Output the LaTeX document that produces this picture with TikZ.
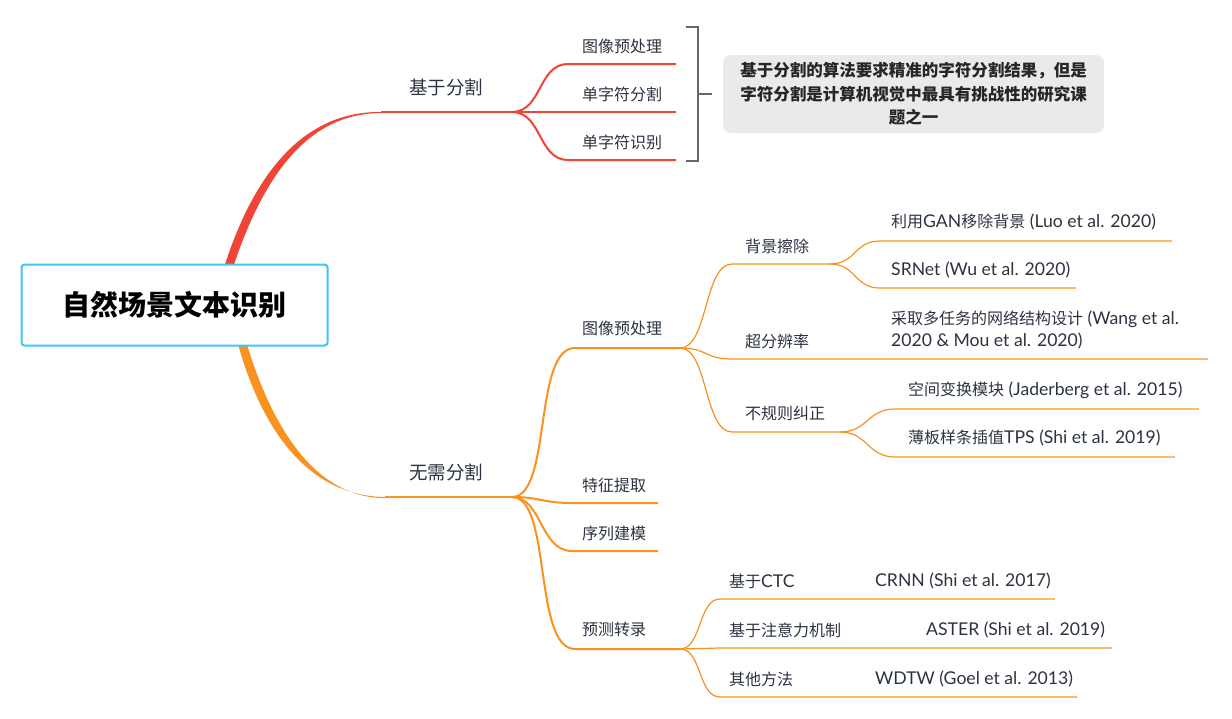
\documentclass[tikz,border=0pt]{standalone}
\usepackage{fontspec}
\setmainfont{Noto Sans CJK SC}
\newfontfamily\cjk{Noto Sans CJK SC}
\newfontfamily\latf[Scale=1.1]{Lato}
\newcommand\la[1]{{\latf #1}}
\definecolor{redb}{HTML}{EF4539}
\definecolor{orb}{HTML}{F7931E}
\definecolor{txt}{HTML}{2B3340}
\definecolor{rootb}{HTML}{3DC5F6}
\definecolor{brk}{HTML}{666666}
\definecolor{callbg}{HTML}{EAEAEA}
\begin{document}
\begin{tikzpicture}[x=1pt,y=-1pt,
  lbl/.style={anchor=west,inner sep=0pt,text=txt,font=\cjk\fontsize{16}{18}\selectfont},
  big/.style={anchor=west,inner sep=0pt,text=txt,font=\cjk\fontsize{18.5}{22}\selectfont},
  redl/.style={draw=redb,line width=2pt},
  orl/.style={draw=orb,line width=2pt},
  orthin/.style={draw=orb,line width=1.2pt},
]
\useasboundingbox (0,0) rectangle (1232,718);
% coordinates
\coordinate (s1) at (381,112); \coordinate (s1e) at (512,112);
\coordinate (a1s) at (568,64); \coordinate (a1e) at (676,64);
\coordinate (a2e) at (676,112);
\coordinate (a3s) at (568,160); \coordinate (a3e) at (676,160);
\coordinate (s2) at (385,497); \coordinate (s2e) at (512,497);
\coordinate (b1s) at (575,348); \coordinate (b1e) at (680,348);
\coordinate (b2s) at (572,503); \coordinate (b2e) at (658,503);
\coordinate (b3s) at (572,551); \coordinate (b3e) at (658,551);
\coordinate (b4s) at (575,649); \coordinate (b4e) at (680,649);
\coordinate (c1s) at (732,264); \coordinate (c1e) at (830,264);
\coordinate (c2s) at (732,359); \coordinate (c2e) at (1208,359);
\coordinate (c3s) at (732,432); \coordinate (c3e) at (840,432);
\coordinate (d1s) at (880,241); \coordinate (d1e) at (1172,241);
\coordinate (d2s) at (880,288); \coordinate (d2e) at (1076,288);
\coordinate (e1s) at (895,409); \coordinate (e1e) at (1199,409);
\coordinate (e2s) at (895,457); \coordinate (e2e) at (1175,457);
\coordinate (f1s) at (720,599); \coordinate (f1e) at (1055,599);
\coordinate (f2s) at (720,648); \coordinate (f2e) at (1112,648);
\coordinate (f3s) at (720,697); \coordinate (f3e) at (1077,697);

% main tapered branches
\fill[redb] (224.5,266) .. controls (251,183) and (298,110.9) .. (s1)
  -- (381,113.1) .. controls (302,113.1) and (260,187) .. (233.5,266) -- cycle;
\draw[redl] (s1) -- (s1e);
\fill[orb] (238.5,346) .. controls (261,425) and (305,495.9) .. (s2)
  -- (385,498.1) .. controls (312,498.1) and (270,420) .. (247.5,346) -- cycle;
\draw[orl] (s2) -- (s2e);

% red children
\draw[redl] (s1e) .. controls +(30,0) and +(-30,0) .. (a1s) -- (a1e);
\draw[redl] (s1e) -- (a2e);
\draw[redl] (s1e) .. controls +(30,0) and +(-30,0) .. (a3s) -- (a3e);

% orange children
\draw[orl] (s2e) .. controls +(40,0) and +(-42,0) .. (b1s) -- (b1e);
\draw[orl] (s2e) .. controls +(28,0) and +(-30,0) .. (b2s) -- (b2e);
\draw[orl] (s2e) .. controls +(30,0) and +(-32,0) .. (b3s) -- (b3e);
\draw[orl] (s2e) .. controls +(40,0) and +(-42,0) .. (b4s) -- (b4e);

% level 3
\draw[orthin] (b1e) .. controls +(28,0) and +(-28,0) .. (c1s) -- (c1e);
\draw[orthin] (b1e) .. controls +(28,0) and +(-28,0) .. (c2s) -- (c2e);
\draw[orthin] (b1e) .. controls +(28,0) and +(-28,0) .. (c3s) -- (c3e);
\draw[orthin] (c1e) .. controls +(26,0) and +(-26,0) .. (d1s) -- (d1e);
\draw[orthin] (c1e) .. controls +(26,0) and +(-26,0) .. (d2s) -- (d2e);
\draw[orthin] (c3e) .. controls +(28,0) and +(-28,0) .. (e1s) -- (e1e);
\draw[orthin] (c3e) .. controls +(28,0) and +(-28,0) .. (e2s) -- (e2e);
\draw[orthin] (b4e) .. controls +(22,0) and +(-22,0) .. (f1s) -- (f1e);
\draw[orthin] (b4e) -- (f2s) -- (f2e);
\draw[orthin] (b4e) .. controls +(22,0) and +(-22,0) .. (f3s) -- (f3e);

% root
\node[draw=rootb, fill=white, line width=2pt, rounded corners=3pt,
  minimum width=306pt, minimum height=81pt, inner sep=0pt,
  font=\cjk\bfseries\fontsize{28}{32}\selectfont] (root) at (174.5,305) {自然场景文本识别};

% labels
\node[big] (n1) at (409,87) {基于分割};
\node[big] (n2) at (409,472) {无需分割};
\node[lbl] (a1) at (582,46) {图像预处理};
\node[lbl] (a2) at (582,94) {单字符分割};
\node[lbl] (a3) at (582,142) {单字符识别};
\node[lbl] (b1) at (582,328) {图像预处理};
\node[lbl] (b2) at (582,485) {特征提取};
\node[lbl] (b3) at (582,533) {序列建模};
\node[lbl] (b4) at (582,629) {预测转录};
\node[lbl] (c1) at (745,246) {背景擦除};
\node[lbl] (c2) at (745,341) {超分辨率};
\node[lbl] (c3) at (745,413) {不规则纠正};
\node[lbl] (d1) at (891,222) {利用\la{GAN}移除背景\la{ (Luo et al. 2020)}};
\node[lbl] (d2) at (891,270) {\la{SRNet (Wu et al. 2020)}};
\node[lbl, align=left, font=\cjk\fontsize{16}{22}\selectfont] (c2t) at (891,330) {采取多任务的网络结构设计\la{ (Wang et al.}\\\la{2020 \& Mou et al. 2020)}};
\node[lbl] (e1) at (908,390) {空间变换模块\la{ (Jaderberg et al. 2015)}};
\node[lbl] (e2) at (908,438) {薄板样条插值\la{TPS (Shi et al. 2019)}};
\node[lbl] (f1) at (729,581) {基于\la{CTC}};
\node[lbl] (g1) at (875,581) {\la{CRNN (Shi et al. 2017)}};
\node[lbl] (f2) at (729,630) {基于注意力机制};
\node[lbl] (g2) at (926,630) {\la{ASTER (Shi et al. 2019)}};
\node[lbl] (f3) at (729,679) {其他方法};
\node[lbl] (g3) at (875,679) {\la{WDTW (Goel et al. 2013)}};

% bracket
\coordinate (bt) at (686,27); \coordinate (bb) at (686,161);
\coordinate (bm) at (698,94); \coordinate (bmt) at (712,94);
\draw[brk, line width=2.5pt] (bt) -- (698,27) -- (698,161) -- (bb);
\draw[brk, line width=2.5pt] (bm) -- (bmt);

% callout
\node[fill=callbg, rounded corners=8pt, minimum width=381pt, minimum height=78pt,
  inner sep=0pt, align=center, text=black!85,
  font=\cjk\bfseries\fontsize{16.5}{23.5}\selectfont] (call) at (913.5,94)
  {基于分割的算法要求精准的字符分割结果，但是\\字符分割是计算机视觉中最具有挑战性的研究课\\题之一};
\end{tikzpicture}
\end{document}
